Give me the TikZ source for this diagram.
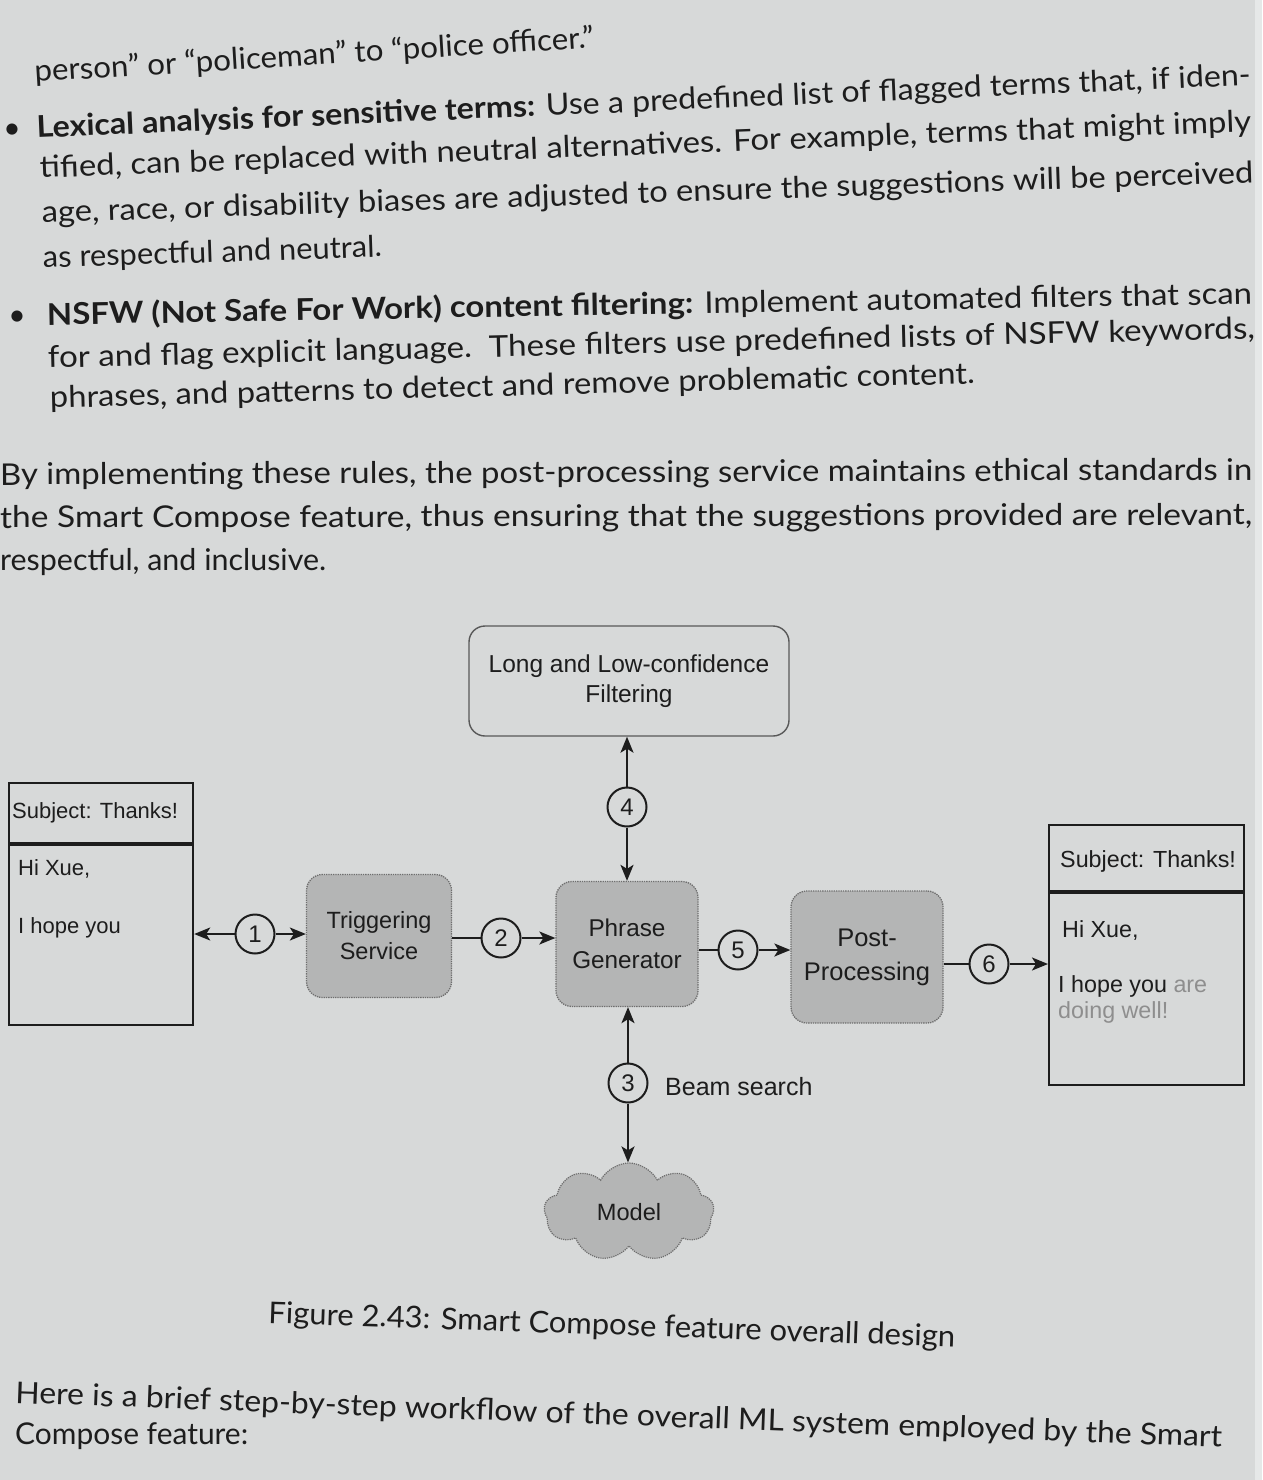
\documentclass[tikz,border=0pt]{standalone}
\usepackage{fontspec}
\setmainfont{Lato}
\newfontfamily\diagfont{Liberation Sans}
\usepackage{graphicx}
\usetikzlibrary{arrows.meta,shapes.symbols}
\definecolor{bg}{HTML}{D7D9D9}
\definecolor{pageedge}{HTML}{E6E8E8}
\definecolor{ink}{HTML}{1D1D1D}
\definecolor{boxfill}{HTML}{B4B5B5}
\definecolor{boxedge}{HTML}{6E6E6E}
\definecolor{lighttext}{HTML}{8E8E8E}
\newcommand\myfitline[2]{\sbox0{#2}\pgfmathsetmacro\myfac{#1/\the\wd0}\scalebox{\myfac}[1]{\usebox0}}
\newcommand\dfs[2]{\diagfont\fontsize{#1}{#2}\selectfont}
\tikzset{
  body/.style={anchor=base west, inner sep=0pt, text=ink, font=\fontsize{30}{36}\selectfont},
  bulletmark/.style={inner sep=0pt, text=ink, font=\fontsize{30}{36}\selectfont},
  proc/.style={draw=boxedge, densely dotted, line width=1.3pt, fill=boxfill, rounded corners=16pt,
    align=center, text=ink, inner sep=0pt},
  plainbox/.style={draw=boxedge!80!black, line width=1.4pt, rounded corners=16pt,
    align=center, text=ink, inner sep=0pt},
  mail/.style={draw=ink, line width=2.2pt, inner sep=0pt},
  mailtext/.style={anchor=base west, inner sep=0pt, text=ink},
  num/.style={circle, draw=ink, line width=2pt, fill=bg, minimum size=39pt, inner sep=0pt,
    text=ink, font=\dfs{24}{28}},
  conn/.style={draw=ink, line width=2pt, arrows={-Stealth[length=16pt,width=13pt,inset=4pt]}},
  connplain/.style={draw=ink, line width=2pt},
  connback/.style={draw=ink, line width=2pt, arrows={Stealth[length=16pt,width=13pt,inset=4pt]-}},
}
\begin{document}
\begin{tikzpicture}[x=1pt,y=-1pt]
\useasboundingbox (0,0) rectangle (1262,1480);
\fill[bg] (0,0) rectangle (1262,1480);
\fill[pageedge] (1255,0) rectangle (1262,1480);

% ---------- body text above ----------
\node[body, rotate=3.5] (t1) at (35,82) {\myfitline{560}{person” or “policeman” to “police officer.”}};
\node[bulletmark] (b1) at (12,131) {•};
\node[body, rotate=2.5] (t2) at (37,138) {\myfitline{1215}{\textbf{Lexical analysis for sensitive terms:} Use a predefined list of flagged terms that, if iden-}};
\node[body, rotate=2.2] (t3) at (40,178) {\myfitline{1212}{tified, can be replaced with neutral alternatives. For example, terms that might imply}};
\node[body, rotate=1.9] (t4) at (42,223) {\myfitline{1212}{age, race, or disability biases are adjusted to ensure the suggestions will be perceived}};
\node[body, rotate=1.9] (t5) at (43,268) {\myfitline{339}{as respectful and neutral.}};
\node[bulletmark] (b2) at (17,318) {•};
\node[body, rotate=1.0] (t6) at (47,325) {\myfitline{1205}{\textbf{NSFW (Not Safe For Work) content filtering:} Implement automated filters that scan}};
\node[body, rotate=1.4] (t7) at (48,368) {\myfitline{1207}{for and flag explicit language.\ \ These filters use predefined lists of NSFW keywords,}};
\node[body, rotate=1.5] (t8) at (50,408) {\myfitline{925}{phrases, and patterns to detect and remove problematic content.}};
\node[body, rotate=0.23] (t9) at (0,485) {\myfitline{1252}{By implementing these rules, the post-processing service maintains ethical standards in}};
\node[body, rotate=0.14] (t10) at (0,528) {\myfitline{1252}{the Smart Compose feature, thus ensuring that the suggestions provided are relevant,}};
\node[body] (t11) at (0,570) {\myfitline{326}{respectful, and inclusive.}};

% ---------- diagram ----------
% left mail
\node[mail, anchor=north west, minimum width=184pt, minimum height=60pt] (mailLh) at (8,782) {};
\node[mail, anchor=north, minimum width=184pt, minimum height=180pt] (mailLb) at (mailLh.south) {};
\node[mailtext, font=\dfs{22}{26}] (sL) at (12,818) {Subject: Thanks!};
\node[mailtext, font=\dfs{22}{26}] (hL) at (18,875) {Hi Xue,};
\node[mailtext, font=\dfs{22}{26}] (pL) at (18,933) {I hope you};

% right mail
\node[mail, anchor=north west, minimum width=195pt, minimum height=66pt] (mailRh) at (1048,824) {};
\node[mail, anchor=north, minimum width=195pt, minimum height=192pt] (mailRb) at (mailRh.south) {};
\node[mailtext, font=\dfs{23.3}{27}] (sR) at (1060,867) {Subject: Thanks!};
\node[mailtext, font=\dfs{23.3}{27}] (hR) at (1062,937) {Hi Xue,};
\node[mailtext, font=\dfs{23.3}{27}] (pR) at (1058,992) {I hope you \textcolor{lighttext}{are}};
\node[mailtext, font=\dfs{23.3}{27}, text=lighttext] (dR) at (1058,1018) {doing well!};

% process boxes
\node[proc, minimum width=145pt, minimum height=123pt, font=\dfs{23.5}{31}] (trig) at (379,936) {Triggering\\Service};
\node[proc, minimum width=142pt, minimum height=125pt, font=\dfs{24.3}{32}] (phrase) at (627,944) {Phrase\\Generator};
\node[proc, minimum width=152pt, minimum height=132pt, font=\dfs{25.5}{34}] (post) at (867,957) {Post-\\Processing};
\node[plainbox, minimum width=320pt, minimum height=110pt, font=\dfs{24.5}{30}] (long) at (629,681) {Long and Low-confidence\\Filtering};
\node[cloud, cloud puffs=9, cloud puff arc=125, aspect=1.7, draw=boxedge, densely dotted, line width=1.2pt,
  fill=boxfill, minimum width=170pt, minimum height=98pt, inner sep=0pt, text=ink, font=\dfs{23.6}{28}] (model) at (629,1212) {Model};

% number circles
\node[num] (c1) at (255,934) {1};
\node[num] (c2) at (501,938) {2};
\node[num] (c3) at (628,1083) {3};
\node[num] (c4) at (627,807) {4};
\node[num] (c5) at (738,950) {5};
\node[num] (c6) at (989,964) {6};
\node[mailtext, font=\dfs{25}{30}] (beam) at (665,1095) {Beam search};

% connectors
\draw[connback] (mailLb.east |- c1) -- (c1);
\draw[conn] (c1) -- (trig.west |- c1);
\draw[connplain] (trig.east |- c2) -- (c2);
\draw[conn] (c2) -- (phrase.west |- c2);
\draw[connplain] (phrase.east |- c5) -- (c5);
\draw[conn] (c5) -- (post.west |- c5);
\draw[connplain] (post.east |- c6) -- (c6);
\draw[conn] (c6) -- (mailRb.west |- c6);
\draw[connback] (c4 |- long.south) -- (c4);
\draw[conn] (c4) -- (c4 |- phrase.north);
\draw[connback] (c3 |- phrase.south) -- (c3);
\draw[conn] (c3) -- (c3 |- model.north);

% ---------- caption and text below ----------
\node[body, rotate=-2.0] (cap) at (268,1323) {\myfitline{687}{Figure 2.43: Smart Compose feature overall design}};
\node[body, rotate=-2.1] (t12) at (15,1403) {\myfitline{1207}{Here is a brief step-by-step workflow of the overall ML system employed by the Smart}};
\node[body] (t13) at (15,1444) {\myfitline{233}{Compose feature:}};
\end{tikzpicture}
\end{document}
